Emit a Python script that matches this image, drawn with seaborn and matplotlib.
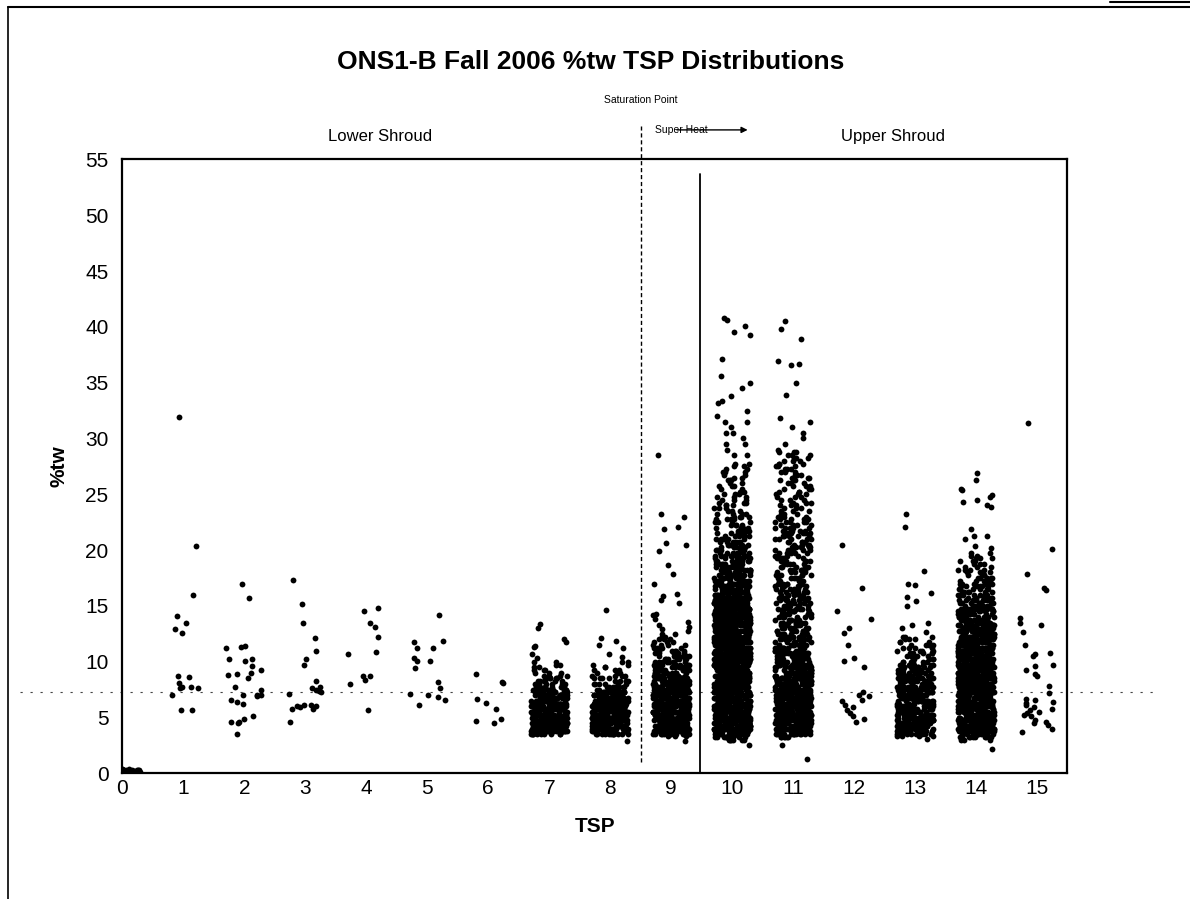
import numpy as np
import pandas as pd
import matplotlib
matplotlib.use("Agg")
import matplotlib.pyplot as plt
from matplotlib.lines import Line2D
import matplotlib.transforms as mtransforms
import seaborn as sns

# ---------------- data ----------------
tsp_order = list(range(16))
x_tick_labels = [str(i) for i in tsp_order]
y_ticks = [0, 5, 10, 15, 20, 25, 30, 35, 40, 45, 50, 55]

tsp0_y = [0.1, 0.2, 0.3, 0.4]
tsp0_n = [8, 10, 10, 6]

tsp1_y = [31.9, 20.4, 16.0, 14.1, 13.5, 12.9, 12.6, 8.7, 8.6, 8.1, 7.7, 7.7, 7.6, 7.6, 7.0, 5.7, 5.7]
tsp2_y = [17.0, 15.7, 11.4, 11.3, 11.2, 10.2, 10.2, 10.1, 9.6, 9.3, 9.0, 8.8, 8.9, 8.5, 7.7, 7.5,
          7.0, 7.0, 7.0, 6.9, 6.6, 6.4, 6.2, 5.1, 4.9, 4.6, 4.6, 4.5, 3.5]
tsp3_y = [17.3, 15.2, 13.5, 12.1, 11.0, 10.2, 9.7, 8.3, 7.7, 7.6, 7.5, 7.3, 7.1, 7.4,
          6.0, 6.1, 6.0, 5.8, 5.8, 6.1, 4.6, 5.9]
tsp4_y = [14.85, 14.5, 13.5, 13.1, 12.2, 10.9, 10.65, 8.7, 8.4, 8.0, 5.7, 8.75]
tsp5_y = [14.2, 11.9, 11.8, 11.2, 11.2, 10.35, 10.05, 10.1, 9.4, 8.2, 7.6, 7.15, 7.0, 6.8, 6.6, 6.1]
tsp6_y = [8.9, 8.2, 8.05, 6.7, 6.3, 5.75, 4.9, 4.7, 4.55]

tsp7_y = [3.5, 3.75, 4.0, 4.25, 4.5, 4.75, 5.0, 5.25, 5.5, 5.75, 6.0, 6.25, 6.5, 6.75, 7.0, 7.25,
          7.5, 7.75, 8.0, 8.25, 8.5, 8.75, 9.0, 9.25, 9.5, 9.75, 10.0, 10.3, 10.7, 11.3, 11.4,
          11.8, 12.0, 13.0, 13.4]
tsp7_n = [10, 20, 20, 20, 20, 20, 20, 20, 18, 20, 20, 18, 18, 15, 14, 12,
          10, 8, 7, 6, 5, 4, 3, 3, 2, 2, 2, 1, 1, 1, 1, 1, 1, 1, 1]

tsp8_y = [2.9, 3.5, 3.75, 4.0, 4.25, 4.5, 4.75, 5.0, 5.25, 5.5, 5.75, 6.0, 6.25, 6.5, 6.75, 7.0,
          7.25, 7.5, 7.75, 8.0, 8.25, 8.5, 8.75, 9.0, 9.25, 9.5, 9.75, 10.0, 10.4, 10.7, 11.2,
          11.5, 11.9, 12.1, 14.6]
tsp8_n = [1, 12, 20, 20, 20, 20, 20, 20, 20, 18, 20, 20, 18, 18, 15, 14,
          12, 9, 7, 6, 5, 4, 4, 3, 3, 2, 2, 2, 1, 1, 1, 1, 1, 1, 1]

tsp9_y = [2.9, 3.3, 3.5,
          3.75, 4.0, 4.25, 4.5, 4.75, 5.0, 5.25, 5.5, 5.75, 6.0, 6.25, 6.5, 6.75, 7.0, 7.25, 7.5,
          7.75, 8.0,
          8.25, 8.5, 8.75, 9.0, 9.25, 9.5, 9.75, 10.0, 10.25, 10.5, 10.75, 11.0, 11.25, 11.5,
          11.75, 12.0, 12.25, 12.5,
          12.75, 12.9, 13.1, 13.3, 13.6, 13.8, 14.2, 14.3, 15.3, 15.5, 15.9, 16.1, 17.0, 17.9,
          18.7, 19.9, 20.5, 20.6, 21.9, 22.1, 23.0, 23.2, 28.5]
tsp9_n = ([1, 3, 14] + [20] * 18 +
          [17, 15, 14, 12, 11, 10, 9, 8, 7, 6, 6, 5, 4, 4, 3, 3, 2, 2] + [1] * 23)

tsp10_y = [2.5, 3.0, 3.25,
           3.5, 3.75, 4.0, 4.25, 4.5, 4.75, 5.0, 5.25, 5.5, 5.75, 6.0, 6.25, 6.5, 6.75, 7.0,
           7.25, 7.5, 7.75, 8.0, 8.25, 8.5, 8.75, 9.0, 9.25, 9.5, 9.75, 10.0, 10.25, 10.5,
           10.75, 11.0, 11.25, 11.5, 11.75, 12.0, 12.25, 12.5, 12.75, 13.0, 13.25, 13.5, 13.75,
           14.0, 14.25, 14.5, 14.75, 15.0, 15.25, 15.5, 15.75,
           16.0, 16.25, 16.5, 16.75, 17.0, 17.25, 17.5, 17.75, 18.0, 18.25, 18.5, 18.75, 19.0,
           19.25, 19.5, 19.75, 20.0, 20.25, 20.5, 20.75, 21.0, 21.25, 21.5, 21.75,
           22.0, 22.25, 22.5, 22.75, 23.0, 23.25, 23.5, 23.75, 24.0, 24.25, 24.5, 24.75, 25.0,
           25.25, 25.5, 25.75, 26.0, 26.25, 26.5, 26.75, 27.0, 27.25, 27.5, 27.75,
           28.5, 29.0, 29.5, 30.0, 30.5, 31.0, 31.5, 32.0, 32.5,
           33.2, 33.4, 33.8, 34.5, 35.0, 35.6, 37.1, 39.3, 39.5, 40.1, 40.6, 40.8]
tsp10_n = ([1, 6, 14] + [22] * 50 +
           [14, 13, 12, 12, 11, 11, 10, 10, 9, 9, 8, 8, 8, 7, 7, 7, 7, 6, 6, 6, 5, 5, 5, 5] +
           [5, 4, 4, 4, 4, 4, 3, 3, 3, 3, 3, 3, 3, 3, 2, 3, 2, 3, 2, 2, 3, 2, 2, 2] +
           [2, 1, 2, 1, 2, 1, 2, 1, 1] + [1] * 12)

tsp11_y = [1.3, 2.5, 3.25, 3.5,
           3.75, 4.0, 4.25, 4.5, 4.75, 5.0, 5.25, 5.5, 5.75, 6.0, 6.25, 6.5, 6.75, 7.0, 7.25,
           7.5, 7.75, 8.0, 8.25, 8.5, 8.75,
           9.0, 9.25, 9.5, 9.75, 10.0, 10.25, 10.5, 10.75,
           11.0, 11.25, 11.5, 11.75, 12.0, 12.25, 12.5, 12.75, 13.0, 13.25, 13.5, 13.75, 14.0,
           14.25, 14.5, 14.75, 15.0, 15.25, 15.5, 15.75, 16.0, 16.25, 16.5, 16.75,
           17.0, 17.25, 17.5, 17.75, 18.0, 18.25, 18.5, 18.75, 19.0, 19.25, 19.5, 19.75, 20.0,
           20.25, 20.5, 20.75, 21.0, 21.25, 21.5, 21.75, 22.0, 22.25, 22.5, 22.75,
           23.0, 23.25, 23.5, 23.75, 24.0, 24.25, 24.5, 24.75, 25.0, 25.25, 25.5, 25.75, 26.0,
           26.25, 26.5, 26.75, 27.0, 27.25, 27.5, 27.75, 28.0, 28.25, 28.5, 28.75,
           29.0, 29.5, 30.0, 30.5, 31.0, 31.5,
           31.8, 33.9, 35.0, 36.6, 36.7, 36.9, 38.9, 39.8, 40.5]
tsp11_n = ([1, 1, 6, 14] + [20] * 21 + [16, 15, 14, 13, 12, 11, 10, 10] +
           [9] * 8 + [7] * 12 + [6] * 4 + [5] * 24 + [3] * 24 + [1] * 6 + [1] * 9)

tsp12_y = [20.5, 16.6, 14.5, 13.8, 13.0, 12.6, 11.5, 10.3, 10.1, 9.5, 7.3, 7.0, 6.9, 6.6,
           6.5, 6.1, 5.9, 5.7, 5.4, 5.1, 4.9, 4.6]

tsp13_y = [3.1, 3.3, 3.5,
           3.75, 4.0, 4.25, 4.5, 4.75, 5.0, 5.25, 5.5, 5.75, 6.0, 6.25, 6.5, 6.75, 7.0, 7.25,
           7.5, 7.75, 8.0, 8.25, 8.5,
           8.75, 9.0, 9.25, 9.5, 9.75,
           10.0, 10.25, 10.5, 10.75, 11.0, 11.25, 11.5, 11.75, 12.0, 12.25,
           12.7, 13.0, 13.3, 13.5, 15.0, 15.4, 15.8, 16.2, 16.9, 17.0, 18.1, 22.1, 23.2]
tsp13_n = ([1, 4, 10] + [15] * 20 + [11, 10, 9, 8, 7] +
           [6, 5, 5, 5, 4, 4, 4, 3, 3, 3] + [1] * 13)

tsp14_y = [2.2, 3.0, 3.25,
           3.5, 3.75, 4.0, 4.25, 4.5, 4.75, 5.0, 5.25, 5.5, 5.75, 6.0, 6.25, 6.5, 6.75, 7.0,
           7.25, 7.5, 7.75, 8.0, 8.25, 8.5, 8.75, 9.0, 9.25, 9.5, 9.75, 10.0, 10.25, 10.5,
           10.75, 11.0, 11.25, 11.5, 11.75, 12.0, 12.25, 12.5, 12.75,
           13.0, 13.25, 13.5, 13.75, 14.0, 14.25, 14.5, 14.75,
           15.0, 15.25, 15.5, 15.75, 16.0, 16.25, 16.5, 16.75, 17.0, 17.25,
           17.5, 17.75, 18.0, 18.25, 18.5, 18.75, 19.0, 19.25, 19.5, 19.75,
           20.2, 20.4, 21.0, 21.3, 21.3, 21.9, 23.9, 24.0, 24.3, 24.5, 24.8, 24.9, 25.4, 25.5,
           26.3, 26.9]
tsp14_n = ([1, 3, 10] + [20] * 38 + [16, 15, 14, 13, 12, 11, 10, 10] +
           [9, 9, 8, 8, 7, 7, 6, 6, 5, 5] + [5, 4, 4, 4, 3, 3, 3, 3, 2, 2] + [1] * 16)

tsp15_y = [31.4, 20.1, 17.9, 16.6, 16.4, 13.9, 13.5, 13.3, 12.7, 11.5, 10.8, 10.7, 10.5, 9.7,
           9.6, 9.3, 8.9, 8.7, 7.8, 7.2, 6.7, 6.6, 6.4, 6.3, 6.1, 5.9, 5.8, 5.7, 5.5, 5.4, 5.2,
           5.1, 4.8, 4.6, 4.5, 4.3, 4.0, 3.7]

ref_line_y = 7.3          # horizontal dashed reference line
saturation_x = 8.5        # dashed vertical line
superheat_x = 9.47        # solid vertical line

# ---------------- build long table ----------------
series = [(0, tsp0_y, tsp0_n), (1, tsp1_y, None), (2, tsp2_y, None), (3, tsp3_y, None),
          (4, tsp4_y, None), (5, tsp5_y, None), (6, tsp6_y, None), (7, tsp7_y, tsp7_n),
          (8, tsp8_y, tsp8_n), (9, tsp9_y, tsp9_n), (10, tsp10_y, tsp10_n),
          (11, tsp11_y, tsp11_n), (12, tsp12_y, None), (13, tsp13_y, tsp13_n),
          (14, tsp14_y, tsp14_n), (15, tsp15_y, None)]
all_t, all_y = [], []
for t, ys, ns in series:
    if ns is None:
        ns = [1] * len(ys)
    vals = np.repeat(np.asarray(ys, float), ns)
    all_y.extend(vals.tolist())
    all_t.extend([t] * len(vals))
df = pd.DataFrame({"TSP": all_t, "%tw": all_y})

# ---------------- plot ----------------
sns.set_style("white")
plt.rcParams["font.family"] = ["Liberation Sans", "DejaVu Sans"]
plt.rcParams["text.color"] = "black"
plt.rcParams["axes.labelcolor"] = "black"
plt.rcParams["xtick.color"] = "black"
plt.rcParams["ytick.color"] = "black"

fig = plt.figure(figsize=(11.9, 8.99), dpi=100)
ax = fig.add_axes([0.1029, 0.1398, 0.7941, 0.6828])

np.random.seed(7)
sns.stripplot(data=df, x="TSP", y="%tw", order=tsp_order, jitter=0.3, size=4.2,
              color="black", linewidth=0, ax=ax, zorder=3)

ax.set_xlim(0, 15.5)
ax.set_ylim(0, 55)
ax.set_yticks(y_ticks)
ax.set_xticks(tsp_order)
ax.set_xticklabels(x_tick_labels)
ax.tick_params(axis="y", labelsize=15, length=4, width=1.0, direction="out",
               color="black", labelcolor="black", pad=6)
ax.tick_params(axis="x", labelsize=15, length=3, width=1.0, direction="out",
               color="black", labelcolor="black", pad=1)
for s in ax.spines.values():
    s.set_visible(True)
    s.set_color("black")
    s.set_linewidth(1.6)

ax.set_xlabel("TSP", fontsize=15, fontweight="bold", labelpad=14, color="black")
ax.set_ylabel("%tw", fontsize=15, fontweight="bold", labelpad=12, color="black")

# horizontal dashed reference line extending past the axes
blend = mtransforms.blended_transform_factory(ax.transAxes, ax.transData)
ax.add_line(Line2D([-0.108, 1.098], [ref_line_y, ref_line_y], transform=blend,
                   color="#444444", lw=0.8, ls=(0, (2, 7)), clip_on=False, zorder=1))

# vertical lines
ax.add_line(Line2D([saturation_x, saturation_x], [1.0, 58.0], color="black", lw=1.0,
                   ls=(0, (3, 2)), clip_on=False, zorder=4))
ax.add_line(Line2D([superheat_x, superheat_x], [0, 53.7], color="black", lw=1.3,
                   clip_on=False, zorder=4))

# annotations
ax.text(saturation_x, 60.3, "Saturation Point", fontsize=7.5, ha="center", va="center",
        clip_on=False, color="black")
ax.text(8.73, 57.6, "Super Heat", fontsize=7.5, ha="left", va="center", clip_on=False,
        color="black")
ax.annotate("", xy=(10.3, 57.65), xytext=(9.05, 57.65),
            arrowprops=dict(arrowstyle="-|>", color="black", lw=1.0, mutation_scale=9),
            annotation_clip=False)
ax.text(4.22, 57.1, "Lower Shroud", fontsize=12, ha="center", va="center", clip_on=False,
        color="black")
ax.text(12.64, 57.1, "Upper Shroud", fontsize=12, ha="center", va="center", clip_on=False,
        color="black")

fig.text(0.496, 0.931, "ONS1-B Fall 2006 %tw TSP Distributions", fontsize=19,
         fontweight="bold", ha="center", va="center", color="black")

# outer page frame (top and left edges of the scanned box)
fig.add_artist(Line2D([0.0067, 1.0], [0.992, 0.992], transform=fig.transFigure,
                      color="black", lw=1.5))
fig.add_artist(Line2D([0.0067, 0.0067], [0.0, 0.992], transform=fig.transFigure,
                      color="black", lw=1.2))
fig.add_artist(Line2D([0.933, 1.0], [0.998, 0.998], transform=fig.transFigure,
                      color="black", lw=1.5))

fig.savefig("out.png", dpi=100)
